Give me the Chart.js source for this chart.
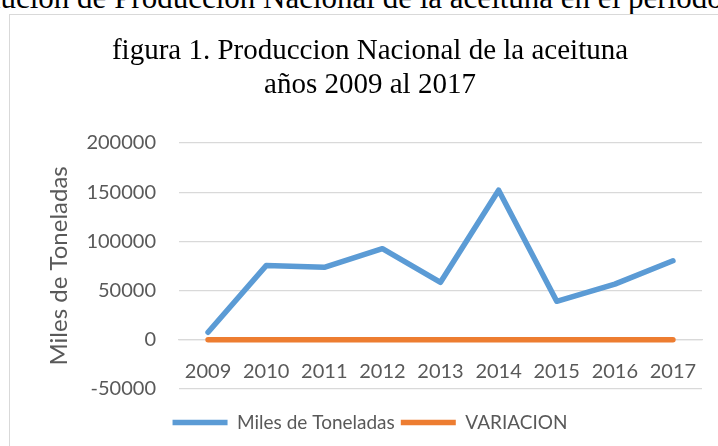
<!DOCTYPE html>
<html>
<head>
<meta charset="utf-8">
<script src="https://cdn.jsdelivr.net/npm/chart.js"></script>
<style>
  html, body { margin: 0; padding: 0; background: #fff; overflow: hidden; }
  body { width: 718px; height: 446px; position: relative; }
  #caption {
    position: absolute; top: -18px; left: 0; white-space: nowrap;
    font: 31px/31px "Liberation Serif", "Times New Roman", serif; color: #000;
  }
  #box {
    position: absolute; left: 9px; top: 14px; width: 760px; height: 480px;
    border: 1px solid #d9d9d9;
  }
  #myChart { position: absolute; left: 0; top: 0; }
</style>
</head>
<body>
<div id="caption">Evolución de Producción Nacional de la aceituna en el periodo 2009 al 2017</div>
<div id="box"><canvas id="myChart" width="740" height="440" style="width:740px;height:440px"></canvas></div>
<script>
// data
const years = ["2009", "2010", "2011", "2012", "2013", "2014", "2015", "2016", "2017"];
const milesToneladas = [7500, 75300, 73600, 92500, 58300, 152000, 39000, 56500, 80200];
const variacion = [0, 9.04, -0.02, 0.26, -0.37, 1.6, -0.74, 0.45, 0.42];

const yMin = -50000;
const yMax = 200000;
const yStep = 50000;

const chartTitle = ["figura 1. Produccion Nacional de la aceituna", "años 2009 al 2017"];
const yTitle = "Miles de Toneladas";

// the cut caption above the chart box
function placeCaption() {
  const ctx = document.createElement("canvas").getContext("2d");
  ctx.font = '31px "Liberation Serif"';
  const w = ctx.measureText("Evolu").width;
  document.getElementById("caption").style.left = (16 - w) + "px";
}

function drawChart() {
  placeCaption();

  new Chart("myChart", {
    type: "line",
    data: {
      labels: years,
      datasets: [
        {
          label: "Miles de Toneladas",
          data: milesToneladas,
          borderColor: "#5b9bd5",
          backgroundColor: "#5b9bd5",
          borderWidth: 5.5,
          borderCapStyle: "round",
          borderJoinStyle: "round",
          pointRadius: 0,
          tension: 0,
          fill: false,
        },
        {
          label: "VARIACION",
          data: variacion,
          borderColor: "#ed7d31",
          backgroundColor: "#ed7d31",
          borderWidth: 5.5,
          borderCapStyle: "round",
          borderJoinStyle: "round",
          pointRadius: 0,
          tension: 0,
          fill: false,
        },
      ],
    },
    options: {
      responsive: false,
      animation: false,
      layout: { padding: { left: 28, right: 48, top: 0, bottom: 13 } },
      plugins: {
        title: {
          display: true,
          text: chartTitle,
          color: "#000",
          font: { family: "Liberation Serif", size: 29, weight: "normal", lineHeight: "34px" },
          padding: { top: 19, bottom: 41 },
        },
        legend: {
          position: "bottom",
          // empty legend title only pushes the items down
          title: {
            display: true,
            text: " ",
            font: { size: 1 },
            padding: { top: 17, bottom: 0 },
          },
          labels: {
            color: "#595959",
            font: { family: "Lato", size: 19 },
            usePointStyle: true,
            pointStyle: "line",
            pointStyleWidth: 55,
            padding: 6,
          },
        },
        tooltip: { enabled: false },
      },
      scales: {
        x: {
          position: { y: 0 },
          offset: true,
          grid: { display: false, drawTicks: false },
          border: { display: true, color: "#d9d9d9", width: 1.3 },
          ticks: {
            color: "#595959",
            font: { family: "Lato", size: 20 },
            padding: 20,
            maxRotation: 0,
            autoSkip: false,
          },
        },
        y: {
          min: yMin,
          max: yMax,
          grid: { color: "#d9d9d9", lineWidth: 1.3, drawTicks: false },
          border: { display: false },
          ticks: {
            stepSize: yStep,
            color: "#595959",
            font: { family: "Lato", size: 20 },
            padding: 23,
            callback: (v) => String(v),
          },
          title: {
            display: true,
            text: yTitle,
            color: "#595959",
            font: { family: "Lato", size: 24 },
            padding: { top: 7, bottom: 0 },
          },
          afterFit: (s) => { s.width = 141; },
        },
      },
    },
  });
}

Promise.all([
  document.fonts.load('20px "Lato"'),
  document.fonts.load('27px "Liberation Serif"'),
]).then(drawChart, drawChart);
</script>
</body>
</html>
